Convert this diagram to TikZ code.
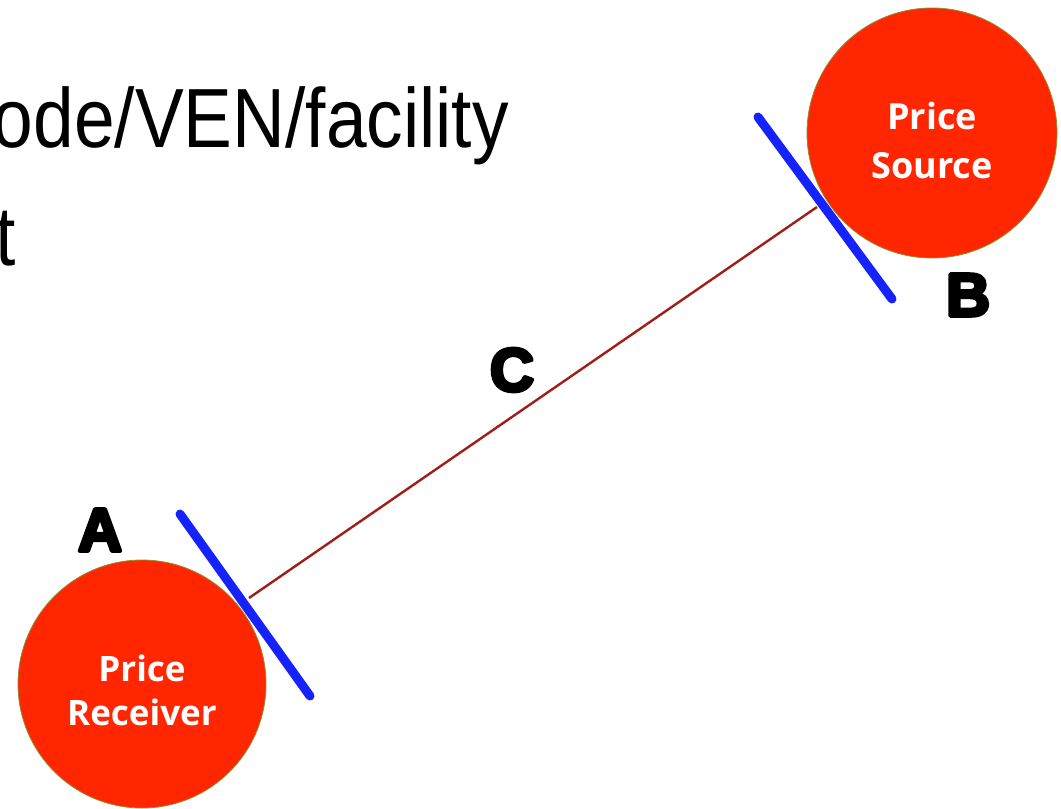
\documentclass[tikz,border=0pt]{standalone}
\usepackage{graphicx}
\usepackage{fontspec}
\setmainfont{Liberation Sans}
\newfontfamily\lblfont{Open Sans}
\newfontfamily\heavyfont{Liberation Sans}
\newcommand{\fatstart}{\special{pdf:literal direct 2 Tr 3.6 w 1 j}}
\newcommand{\fatend}{\special{pdf:literal direct 0 Tr}}
\definecolor{discred}{RGB}{255,38,0}
\definecolor{edgeolive}{RGB}{150,140,50}
\definecolor{tickblue}{RGB}{22,34,250}
\definecolor{linkred}{RGB}{160,30,25}
\begin{document}
\begin{tikzpicture}[x=1pt,y=-1pt,
  disc/.style={circle, fill=discred, draw=edgeolive, line width=0.8pt, minimum size=#1, inner sep=0pt},
  disctext/.style={text=white, align=center, inner sep=0pt},
  letter/.style={inner sep=0pt, font=\heavyfont\bfseries\fontsize{61}{61}\selectfont},
  tickline/.style={draw=tickblue, line width=9pt, line cap=round},
  link/.style={draw=linkred, line width=2.4pt},
  titletext/.style={inner sep=0pt, anchor=base east}
]
\useasboundingbox (0,0) rectangle (1061,809);
\clip (0,0) rectangle (1061,809);

% title fragments
\node[titletext] (title1) at (509,147) {\scalebox{0.87}[1]{\fontsize{84}{84}\selectfont ode/VEN/facility}};
\node[titletext] (title2) at (16.5,265) {\scalebox{0.87}[1]{\fontsize{84}{84}\selectfont t}};

% discs
\node[disc=250pt] (src) at (932,133) {};
\node[disc=248pt] (rcv) at (142,684) {};
\node[disctext, font=\lblfont\bfseries\fontsize{36}{49}\selectfont] (srctext) at (932,140) {Price\\Source};
\node[disctext, font=\lblfont\bfseries\fontsize{35}{44}\selectfont] (rcvtext) at (142,690) {Price\\Receiver};

% connection points
\coordinate (pa) at (249,598);
\coordinate (pb) at (817,207);
\draw[link] (pa) -- (pb);

% blue ticks
\coordinate (a1) at (180,514);
\coordinate (a2) at (310,696);
\coordinate (b1) at (758,117);
\coordinate (b2) at (892,299);
\draw[tickline] (a1) -- (a2);
\draw[tickline] (b1) -- (b2);

% labels
\node[letter] (la) at (100,530) {\fatstart A\fatend};
\node[letter] (lb) at (968,295) {\fatstart B\fatend};
\node[letter] (lc) at (512,370) {\fatstart C\fatend};
\end{tikzpicture}
\end{document}
